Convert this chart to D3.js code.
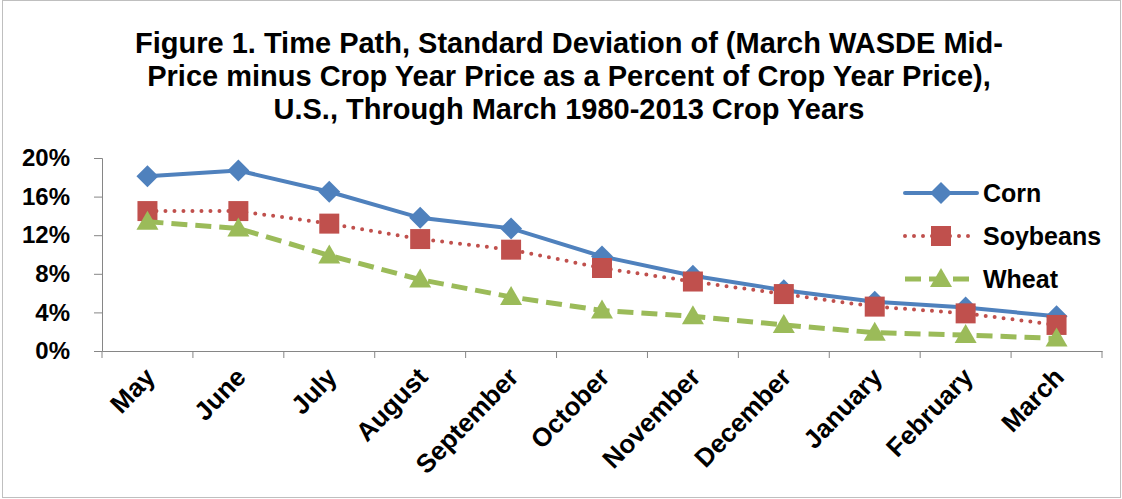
<!DOCTYPE html>
<html>
<head>
<meta charset="utf-8">
<script src="https://cdn.jsdelivr.net/npm/d3@7"></script>
<style>
  body { margin: 0; background: #fff; }
  svg { display: block; font-family: "Liberation Sans", Arial, sans-serif; }
</style>
</head>
<body>
<svg id="chart" width="1122" height="499"></svg>
<script>
// chart data
var months = ["May", "June", "July", "August", "September", "October",
              "November", "December", "January", "February", "March"];
var corn     = [18.1, 18.7, 16.5, 13.8, 12.7, 9.8, 7.8, 6.3, 5.1, 4.5, 3.6];
var soybeans = [14.5, 14.5, 13.2, 11.6, 10.5, 8.6, 7.2, 5.9, 4.6, 3.9, 2.7];
var wheat    = [13.4, 12.7, 9.9, 7.4, 5.6, 4.2, 3.6, 2.7, 1.9, 1.65, 1.3];
var yTicks = [0, 4, 8, 12, 16, 20];
var titleLines = [
  "Figure 1.  Time Path, Standard Deviation of (March WASDE Mid-",
  "Price minus Crop Year Price as a Percent of Crop Year Price),",
  "U.S., Through March 1980-2013 Crop Years"
];

var series = [
  { name: "Corn", values: corn, color: "#4F81BD", dash: null, cap: "round", width: 4, marker: "diamond" },
  { name: "Soybeans", values: soybeans, color: "#C0504D", dash: "0 9", cap: "round", width: 4, marker: "square" },
  { name: "Wheat", values: wheat, color: "#9BBB59", dash: "16 8", cap: "butt", width: 5, marker: "triangle" }
];

var svg = d3.select("#chart");

// outer frame
svg.append("rect")
    .attr("x", 2.5).attr("y", 0.5).attr("width", 1118).attr("height", 497)
    .attr("fill", "none").attr("stroke", "#bfbfbf");

var plot = { left: 102, right: 1102, top: 158, bottom: 351 };

var x = d3.scaleBand().domain(months).range([plot.left, plot.right]);
var y = d3.scaleLinear().domain([0, 20]).range([plot.bottom, plot.top]);

// title
svg.append("g").selectAll("text").data(titleLines).enter().append("text")
    .attr("x", 569).attr("y", function (d, i) { return 53 + i * 33; })
    .attr("text-anchor", "middle")
    .attr("font-size", 29).attr("font-weight", "bold").attr("fill", "#000")
    .text(function (d) { return d; });

// y axis
var yAxis = svg.append("g")
    .attr("transform", "translate(" + plot.left + ",0)")
    .call(d3.axisLeft(y).tickValues(yTicks).tickSize(8).tickPadding(24)
        .tickFormat(function (d) { return d + "%"; }));
yAxis.select(".domain").attr("stroke", "#868686");
yAxis.selectAll(".tick line").attr("stroke", "#868686");
yAxis.selectAll("text").attr("font-size", 24).attr("font-weight", "bold")
    .attr("fill", "#000").attr("font-family", "Liberation Sans, Arial, sans-serif");

// x axis
var xAxis = svg.append("g")
    .attr("transform", "translate(0," + plot.bottom + ")")
    .call(d3.axisBottom(x).tickSize(0).tickFormat(""));
xAxis.select(".domain").attr("stroke", "#868686");

var bounds = months.map(function (m) { return x(m); }).concat([plot.right]);
xAxis.selectAll(".bound").data(bounds).enter().append("line")
    .attr("class", "bound")
    .attr("x1", function (d) { return d; }).attr("x2", function (d) { return d; })
    .attr("y1", 0).attr("y2", 7).attr("stroke", "#868686");

svg.append("g").selectAll("text").data(months).enter().append("text")
    .attr("transform", function (d) {
      return "translate(" + (x(d) + x.bandwidth() / 2 - 5) + "," + (plot.bottom + 14) + ") rotate(-46)";
    })
    .attr("text-anchor", "end")
    .attr("dy", "0.75em")
    .attr("font-size", 26).attr("font-weight", "bold").attr("fill", "#000")
    .text(function (d) { return d; });

// lines and markers
var line = d3.line()
    .x(function (d, i) { return x(months[i]) + x.bandwidth() / 2; })
    .y(function (d) { return y(d); });

function markerPath(type) {
  if (type === "diamond") return "M0,-11L11,0L0,11L-11,0Z";
  if (type === "square") return "M-10,-10H10V10H-10Z";
  return "M0,-11L11,8H-11Z";
}

series.forEach(function (s) {
  var g = svg.append("g");
  g.append("path")
      .datum(s.values)
      .attr("d", line)
      .attr("fill", "none")
      .attr("stroke", s.color)
      .attr("stroke-width", s.width)
      .attr("stroke-linecap", s.cap)
      .attr("stroke-dasharray", s.dash);
  g.selectAll(".mk").data(s.values).enter().append("path")
      .attr("class", "mk")
      .attr("transform", function (d, i) {
        return "translate(" + (x(months[i]) + x.bandwidth() / 2) + "," + y(d) + ")";
      })
      .attr("d", markerPath(s.marker))
      .attr("fill", s.color);
});

// legend
var legend = svg.append("g");
series.forEach(function (s, i) {
  var ly = 193 + i * 43;
  legend.append("line")
      .attr("x1", 905).attr("x2", 977).attr("y1", ly).attr("y2", ly)
      .attr("stroke", s.color).attr("stroke-width", s.width)
      .attr("stroke-linecap", s.cap).attr("stroke-dasharray", s.dash);
  legend.append("path")
      .attr("transform", "translate(941," + ly + ")")
      .attr("d", markerPath(s.marker))
      .attr("fill", s.color);
  legend.append("text")
      .attr("x", 983).attr("y", ly).attr("dy", "0.35em")
      .attr("font-size", 25).attr("font-weight", "bold").attr("fill", "#000")
      .text(s.name);
});
</script>
</body>
</html>
